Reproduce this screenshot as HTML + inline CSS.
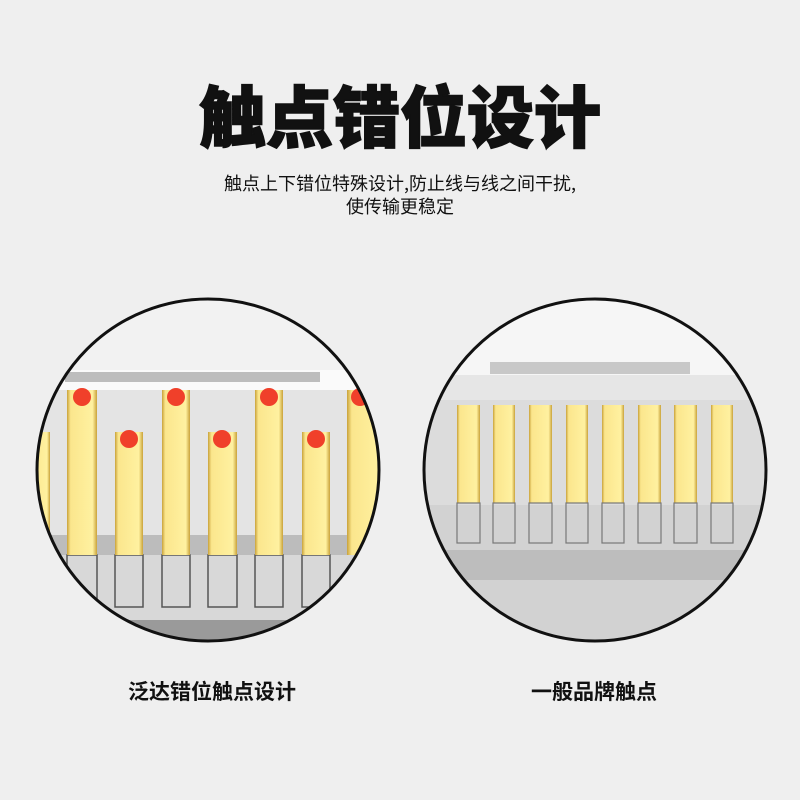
<!DOCTYPE html>
<html><head><meta charset="utf-8"><style>
body{margin:0;width:800px;height:800px;background:#efefef;overflow:hidden;font-family:"Liberation Sans","Noto Sans CJK SC",sans-serif}
svg{position:absolute;left:0;top:0}
</style></head><body>
<svg width="800" height="800" xmlns="http://www.w3.org/2000/svg">
<defs>
<clipPath id="cl"><circle cx="208" cy="470" r="171"/></clipPath>
<clipPath id="cr"><circle cx="595" cy="470" r="171"/></clipPath>
<linearGradient id="g" x1="0" y1="0" x2="1" y2="0">
<stop offset="0" stop-color="#c9a23a"/><stop offset="0.12" stop-color="#fbe68d"/><stop offset="0.85" stop-color="#fff1a0"/><stop offset="1" stop-color="#c9a23a"/></linearGradient>
</defs>
<text x="400" y="142" text-anchor="middle" font-size="67" font-weight="900" fill="#111" stroke="#111" stroke-width="1.5" font-family="'Noto Sans CJK SC',sans-serif">触点错位设计</text>
<text x="400" y="190" text-anchor="middle" font-size="18" fill="#111" font-family="'Noto Sans CJK SC',sans-serif">触点上下错位特殊设计,防止线与线之间干扰,</text>
<text x="400" y="213" text-anchor="middle" font-size="18" fill="#111" font-family="'Noto Sans CJK SC',sans-serif">使传输更稳定</text>

<g clip-path="url(#cl)">
<rect x="30" y="290" width="360" height="360" fill="#f2f2f2"/>
<rect x="30" y="370" width="360" height="20" fill="#fafafa"/>
<rect x="65" y="372" width="255" height="10" fill="#bdbdbd"/>
<rect x="30" y="390" width="360" height="160" fill="#e4e4e4"/>
<rect x="30" y="535" width="360" height="35" fill="#bcbcbc"/>
<rect x="30" y="555" width="360" height="80" fill="#d8d8d8"/>
<g fill="none" stroke="#555" stroke-width="1.5">
<rect x="67" y="555" width="30" height="52"/><rect x="115" y="555" width="28" height="52"/><rect x="162" y="555" width="28" height="52"/><rect x="208" y="555" width="29" height="52"/><rect x="255" y="555" width="28" height="52"/><rect x="302" y="555" width="28" height="52"/></g>
<rect x="30" y="620" width="360" height="30" fill="#9a9a9a"/>
<g>
<rect x="30" y="432" width="20" height="123" fill="url(#g)"/>
<rect x="67" y="390" width="30" height="165" fill="url(#g)"/>
<rect x="115" y="432" width="28" height="123" fill="url(#g)"/>
<rect x="162" y="390" width="28" height="165" fill="url(#g)"/>
<rect x="208" y="432" width="29" height="123" fill="url(#g)"/>
<rect x="255" y="390" width="28" height="165" fill="url(#g)"/>
<rect x="302" y="432" width="28" height="123" fill="url(#g)"/>
<rect x="347" y="390" width="40" height="165" fill="url(#g)"/>
</g>
<g fill="#f0402a">
<circle cx="82" cy="397" r="9"/><circle cx="129" cy="439" r="9"/><circle cx="176" cy="397" r="9"/><circle cx="222" cy="439" r="9"/><circle cx="269" cy="397" r="9"/><circle cx="316" cy="439" r="9"/><circle cx="360" cy="397" r="9"/></g>
</g>
<circle cx="208" cy="470" r="171" fill="none" stroke="#111" stroke-width="3"/>

<g clip-path="url(#cr)">
<rect x="420" y="290" width="360" height="360" fill="#f6f6f6"/>
<rect x="490" y="362" width="200" height="12" fill="#c8c8c8"/>
<rect x="440" y="375" width="310" height="30" fill="#e6e6e6"/>
<rect x="420" y="400" width="360" height="110" fill="#dcdcdc"/>
<rect x="420" y="505" width="360" height="140" fill="#d2d2d2"/>
<rect x="420" y="550" width="360" height="30" fill="#bdbdbd"/>
<g fill="url(#g)">
<rect x="457" y="405" width="23" height="98"/><rect x="493" y="405" width="22" height="98"/><rect x="529" y="405" width="23" height="98"/><rect x="566" y="405" width="22" height="98"/><rect x="602" y="405" width="22" height="98"/><rect x="638" y="405" width="23" height="98"/><rect x="674" y="405" width="23" height="98"/><rect x="711" y="405" width="22" height="98"/></g>
<g fill="none" stroke="#777" stroke-width="1.2">
<rect x="457" y="503" width="23" height="40"/><rect x="493" y="503" width="22" height="40"/><rect x="529" y="503" width="23" height="40"/><rect x="566" y="503" width="22" height="40"/><rect x="602" y="503" width="22" height="40"/><rect x="638" y="503" width="23" height="40"/><rect x="674" y="503" width="23" height="40"/><rect x="711" y="503" width="22" height="40"/></g>
</g>
<circle cx="595" cy="470" r="171" fill="none" stroke="#111" stroke-width="3"/>

<text x="212" y="699" text-anchor="middle" font-size="21" font-weight="bold" fill="#111" font-family="'Noto Sans CJK SC',sans-serif">泛达错位触点设计</text>
<text x="594" y="699" text-anchor="middle" font-size="21" font-weight="bold" fill="#111" font-family="'Noto Sans CJK SC',sans-serif">一般品牌触点</text>
</svg>
</body></html>
